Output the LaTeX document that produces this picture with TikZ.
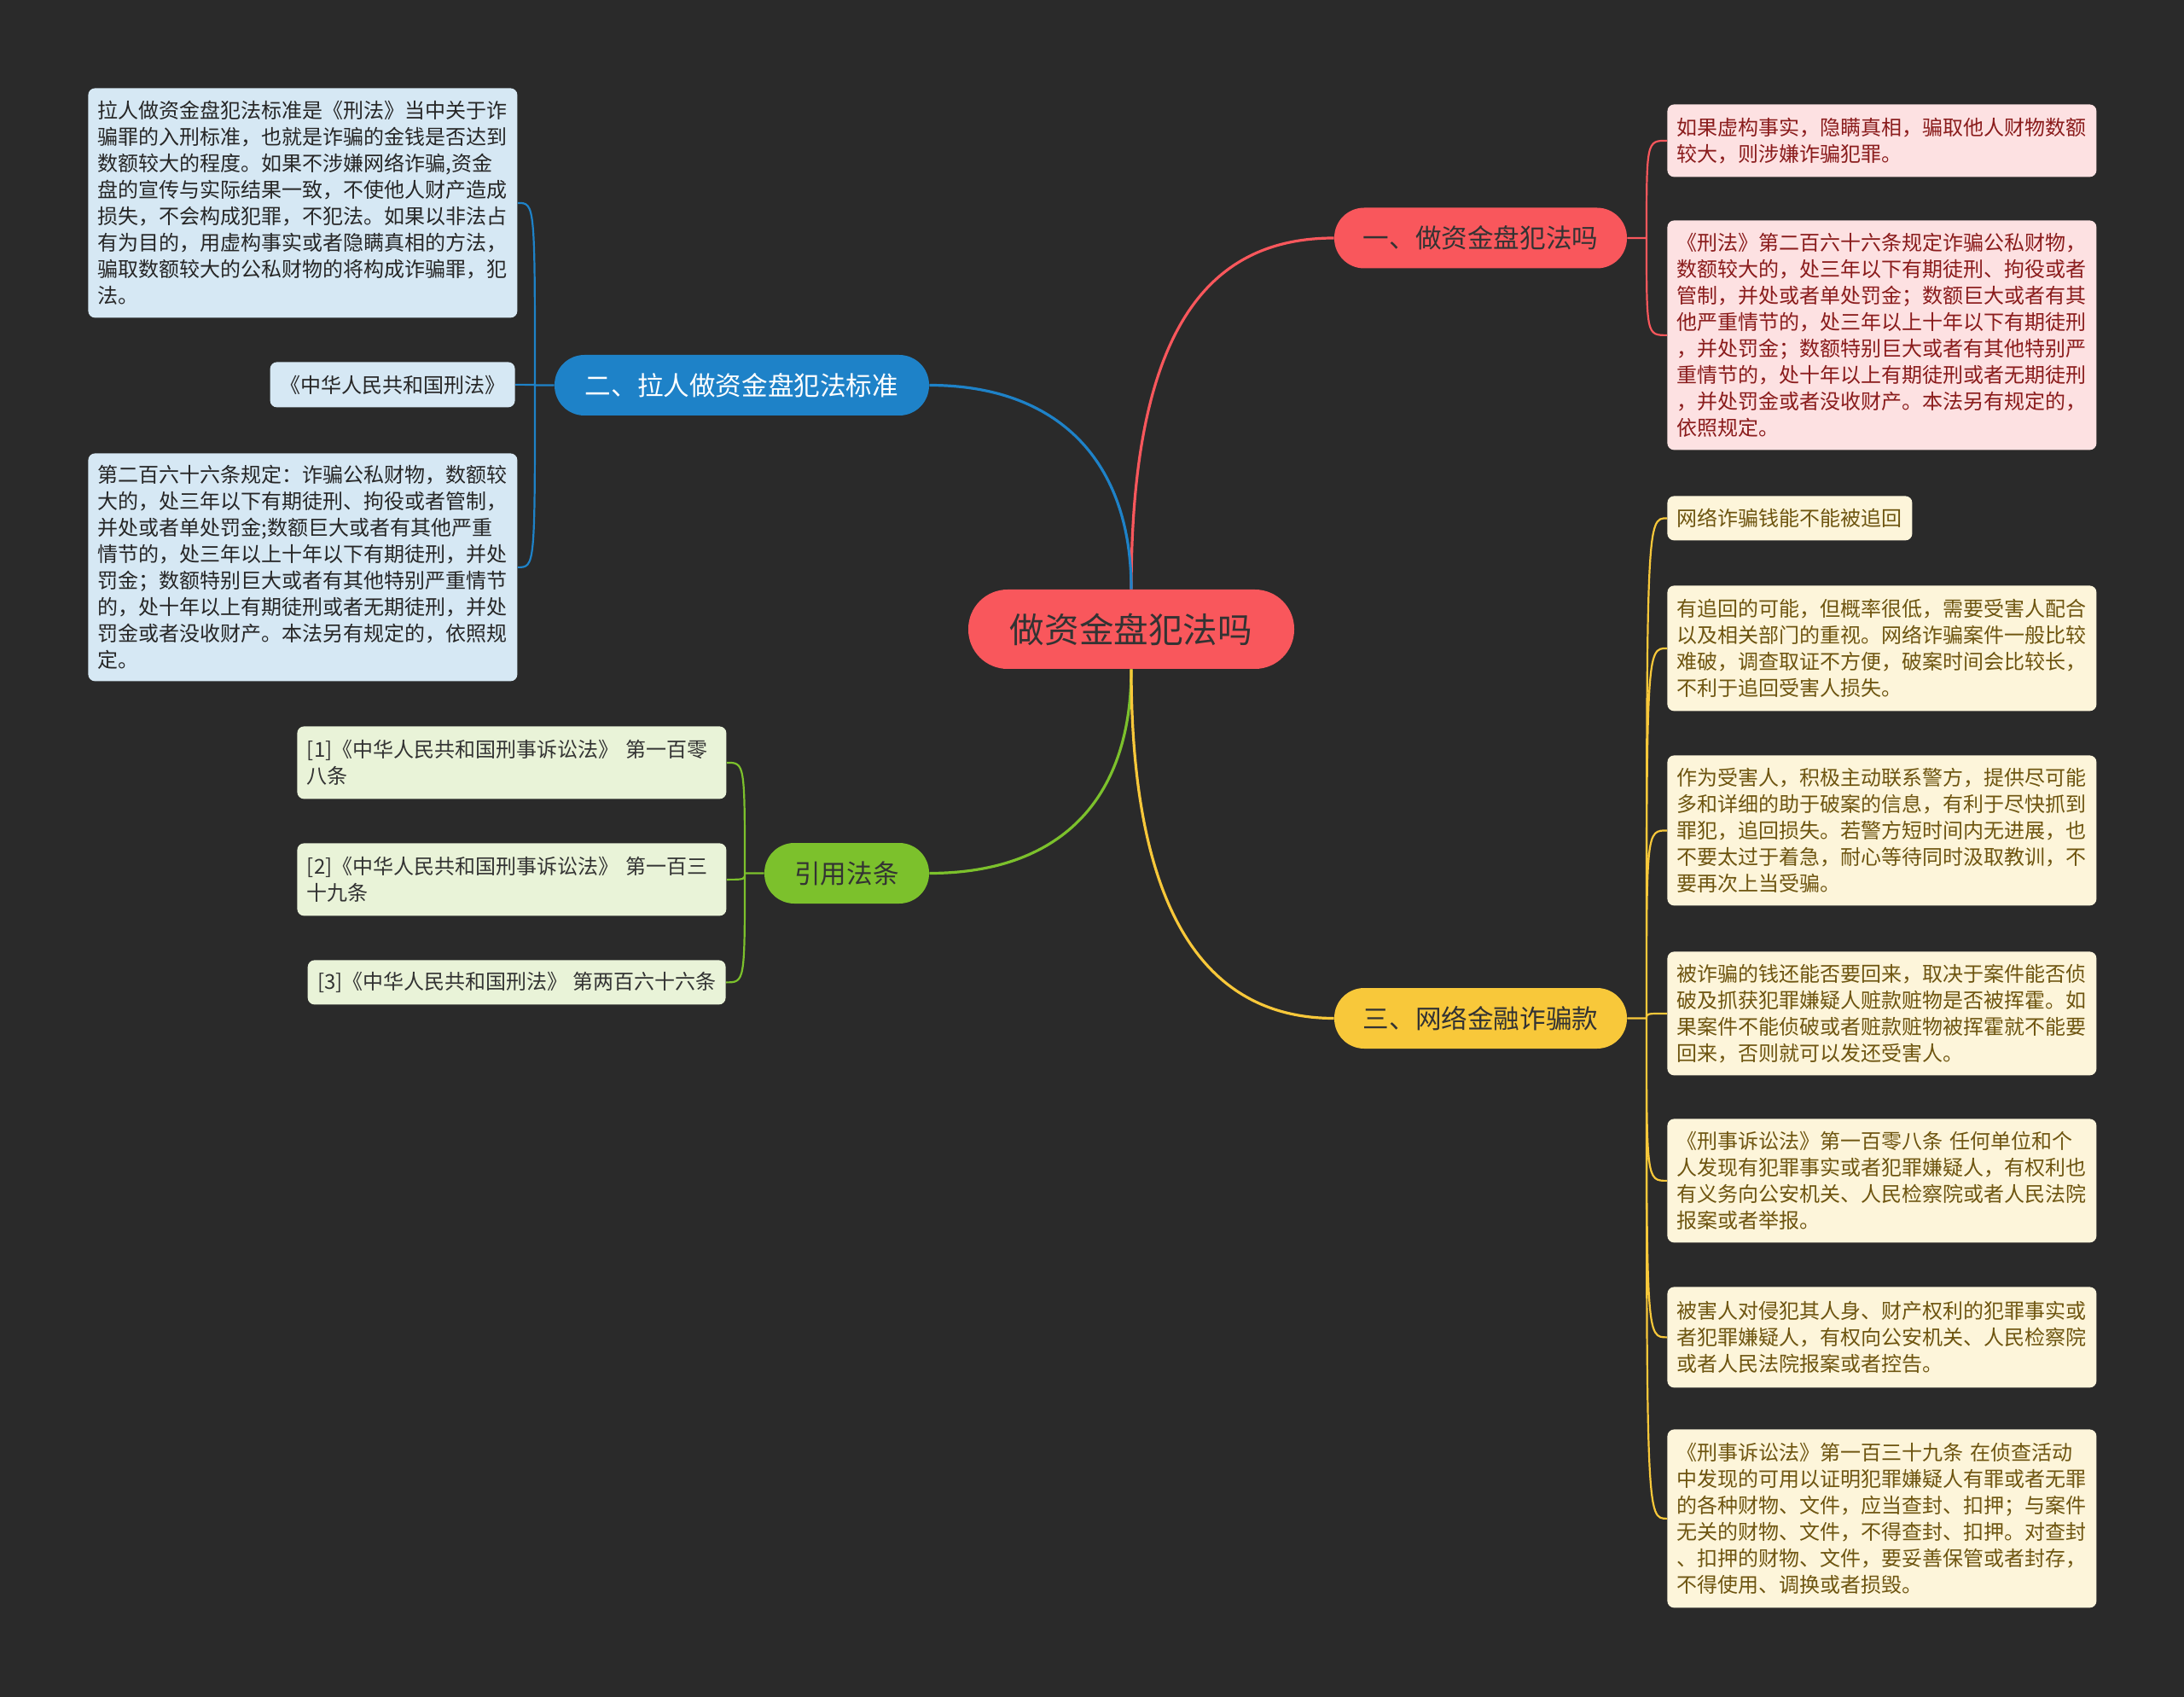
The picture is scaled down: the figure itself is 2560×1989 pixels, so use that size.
\documentclass[tikz,border=0pt]{standalone}
\usepackage{fontspec}
\newfontfamily\cjk{Noto Sans CJK SC}
\usepackage{xcolor}

\definecolor{bgdark}{HTML}{2A2A2A}
\definecolor{redmain}{HTML}{F9575C}
\definecolor{bluemain}{HTML}{1E82C8}
\definecolor{greenmain}{HTML}{7CC12C}
\definecolor{yellowmain}{HTML}{F8C83A}
\definecolor{redleaf}{HTML}{FDE1E2}
\definecolor{blueleaf}{HTML}{D6E8F4}
\definecolor{greenleaf}{HTML}{E9F3D8}
\definecolor{yellowleaf}{HTML}{FDF5DA}
\definecolor{redtext}{HTML}{8A1C1C}
\definecolor{yellowtext}{HTML}{6E5510}
\definecolor{darktext}{HTML}{333333}

\begin{document}
\begin{tikzpicture}[
  x=0.5pt, y=-0.5pt,
  every node/.style={font=\cjk},
  topic/.style={rectangle, rounded corners=23pt, fill=redmain, text=darktext,
    minimum width=191pt, minimum height=46.5pt, inner sep=0pt,
    font=\cjk\fontsize{20.3}{24}\selectfont},
  branch/.style={rectangle, rounded corners=17.5pt, minimum height=35.5pt,
    inner sep=0pt, font=\cjk\fontsize{15.3}{18}\selectfont},
  leaf/.style={rectangle, rounded corners=4pt, inner xsep=5.75pt, inner ysep=0pt,
    align=left, font=\cjk\fontsize{12}{15.5}\selectfont},
  wide/.style={text width=240pt},
  redbox/.style={leaf, fill=redleaf, text=redtext},
  bluebox/.style={leaf, fill=blueleaf, text=black!85},
  greenbox/.style={leaf, fill=greenleaf, text=black!80},
  yellowbox/.style={leaf, fill=yellowleaf, text=yellowtext},
  link/.style={line width=1.6pt},
  twig/.style={line width=1.1pt}
]

\fill[bgdark] (0,0) rectangle (2560,1989);

\node[topic] (root) at (1326,737.5) {做资金盘犯法吗};
\node[branch, fill=redmain, text=darktext, minimum width=171.5pt] (fraud) at (1735.5,279) {一、做资金盘犯法吗};
\node[branch, fill=bluemain, text=white, minimum width=219.5pt] (recruit) at (869.5,451.5) {二、拉人做资金盘犯法标准};
\node[branch, fill=greenmain, text=darktext, minimum width=96.5pt] (cite) at (992.5,1023.5) {引用法条};
\node[branch, fill=yellowmain, text=darktext, minimum width=171.5pt] (online) at (1735.5,1193.5) {三、网络金融诈骗款};

\node[redbox, wide, anchor=north west, minimum height=42.5pt] (r1) at (1954,122)
  {如果虚构事实，隐瞒真相，骗取他人财物数额\\较大，则涉嫌诈骗犯罪。};
\node[redbox, wide, anchor=north west, minimum height=134.5pt] (r2) at (1954,258)
  {《刑法》第二百六十六条规定诈骗公私财物，\\数额较大的，处三年以下有期徒刑、拘役或者\\管制，并处或者单处罚金；数额巨大或者有其\\他严重情节的，处三年以上十年以下有期徒刑\\，并处罚金；数额特别巨大或者有其他特别严\\重情节的，处十年以上有期徒刑或者无期徒刑\\，并处罚金或者没收财产。本法另有规定的，\\依照规定。};

\node[bluebox, wide, anchor=north west, minimum height=134.5pt] (l1) at (103,103)
  {拉人做资金盘犯法标准是《刑法》当中关于诈\\骗罪的入刑标准，也就是诈骗的金钱是否达到\\数额较大的程度。如果不涉嫌网络诈骗,资金\\盘的宣传与实际结果一致，不使他人财产造成\\损失，不会构成犯罪，不犯法。如果以非法占\\有为目的，用虚构事实或者隐瞒真相的方法，\\骗取数额较大的公私财物的将构成诈骗罪，犯\\法。};
\node[bluebox, anchor=north east, minimum height=26.5pt] (l2) at (604,424)
  {《中华人民共和国刑法》};
\node[bluebox, wide, anchor=north west, minimum height=133.5pt] (l3) at (103,531)
  {第二百六十六条规定：诈骗公私财物，数额较\\大的，处三年以下有期徒刑、拘役或者管制，\\并处或者单处罚金;数额巨大或者有其他严重\\情节的，处三年以上十年以下有期徒刑，并处\\罚金；数额特别巨大或者有其他特别严重情节\\的，处十年以上有期徒刑或者无期徒刑，并处\\罚金或者没收财产。本法另有规定的，依照规\\定。};

\node[greenbox, wide, anchor=north west, minimum height=42.5pt] (g1) at (348,851)
  {[1]《中华人民共和国刑事诉讼法》~第一百零\\八条};
\node[greenbox, wide, anchor=north west, minimum height=42.5pt] (g2) at (348,988)
  {[2]《中华人民共和国刑事诉讼法》~第一百三\\十九条};
\node[greenbox, anchor=north east, minimum height=26pt] (g3) at (851,1125)
  {[3]《中华人民共和国刑法》~第两百六十六条};

\node[yellowbox, anchor=north west, minimum height=26pt] (y1) at (1954,581)
  {网络诈骗钱能不能被追回};
\node[yellowbox, wide, anchor=north west, minimum height=73.5pt] (y2) at (1954,686)
  {有追回的可能，但概率很低，需要受害人配合\\以及相关部门的重视。网络诈骗案件一般比较\\难破，调查取证不方便，破案时间会比较长，\\不利于追回受害人损失。};
\node[yellowbox, wide, anchor=north west, minimum height=88pt] (y3) at (1954,885)
  {作为受害人，积极主动联系警方，提供尽可能\\多和详细的助于破案的信息，有利于尽快抓到\\罪犯，追回损失。若警方短时间内无进展，也\\不要太过于着急，耐心等待同时汲取教训，不\\要再次上当受骗。};
\node[yellowbox, wide, anchor=north west, minimum height=72.5pt] (y4) at (1954,1115)
  {被诈骗的钱还能否要回来，取决于案件能否侦\\破及抓获犯罪嫌疑人赃款赃物是否被挥霍。如\\果案件不能侦破或者赃款赃物被挥霍就不能要\\回来，否则就可以发还受害人。};
\node[yellowbox, wide, anchor=north west, minimum height=72.5pt] (y5) at (1954,1311)
  {《刑事诉讼法》第一百零八条~任何单位和个\\人发现有犯罪事实或者犯罪嫌疑人，有权利也\\有义务向公安机关、人民检察院或者人民法院\\报案或者举报。};
\node[yellowbox, wide, anchor=north west, minimum height=59pt] (y6) at (1954,1508)
  {被害人对侵犯其人身、财产权利的犯罪事实或\\者犯罪嫌疑人，有权向公安机关、人民检察院\\或者人民法院报案或者控告。};
\node[yellowbox, wide, anchor=north west, minimum height=104.5pt] (y7) at (1954,1675)
  {《刑事诉讼法》第一百三十九条~在侦查活动\\中发现的可用以证明犯罪嫌疑人有罪或者无罪\\的各种财物、文件，应当查封、扣押；与案件\\无关的财物、文件，不得查封、扣押。对查封\\、扣押的财物、文件，要妥善保管或者封存，\\不得使用、调换或者损毁。};

\coordinate (fraudj) at (1930,279);
\coordinate (recruitj) at (627,451.5);
\coordinate (citej) at (873,1023.5);
\coordinate (onlinej) at (1930,1193.5);

\draw[link, redmain] (root.north) .. controls (1326,380) and (1420,279) .. (fraud.west);
\draw[link, bluemain] (root.north) .. controls (1326,540) and (1240,451.5) .. (recruit.east);
\draw[link, greenmain] (root.south) .. controls (1326,940) and (1240,1023.5) .. (cite.east);
\draw[link, yellowmain] (root.south) .. controls (1326,1080) and (1420,1193.5) .. (online.west);

\draw[twig, redmain] (fraud.east) -- (fraudj)
  (fraudj) .. controls (fraudj |- r1.west) .. (r1.west)
  (fraudj) .. controls (fraudj |- r2.west) .. (r2.west);
\draw[twig, bluemain] (recruit.west) -- (recruitj)
  (recruitj) .. controls (recruitj |- l1.east) .. (l1.east)
  (recruitj) .. controls (recruitj |- l2.east) .. (l2.east)
  (recruitj) .. controls (recruitj |- l3.east) .. (l3.east);
\draw[twig, greenmain] (cite.west) -- (citej)
  (citej) .. controls (citej |- g1.east) .. (g1.east)
  (citej) .. controls (citej |- g2.east) .. (g2.east)
  (citej) .. controls (citej |- g3.east) .. (g3.east);
\draw[twig, yellowmain] (online.east) -- (onlinej)
  (onlinej) .. controls (onlinej |- y1.west) .. (y1.west)
  (onlinej) .. controls (onlinej |- y2.west) .. (y2.west)
  (onlinej) .. controls (onlinej |- y3.west) .. (y3.west)
  (onlinej) .. controls (onlinej |- y4.west) .. (y4.west)
  (onlinej) .. controls (onlinej |- y5.west) .. (y5.west)
  (onlinej) .. controls (onlinej |- y6.west) .. (y6.west)
  (onlinej) .. controls (onlinej |- y7.west) .. (y7.west);

\end{tikzpicture}
\end{document}
